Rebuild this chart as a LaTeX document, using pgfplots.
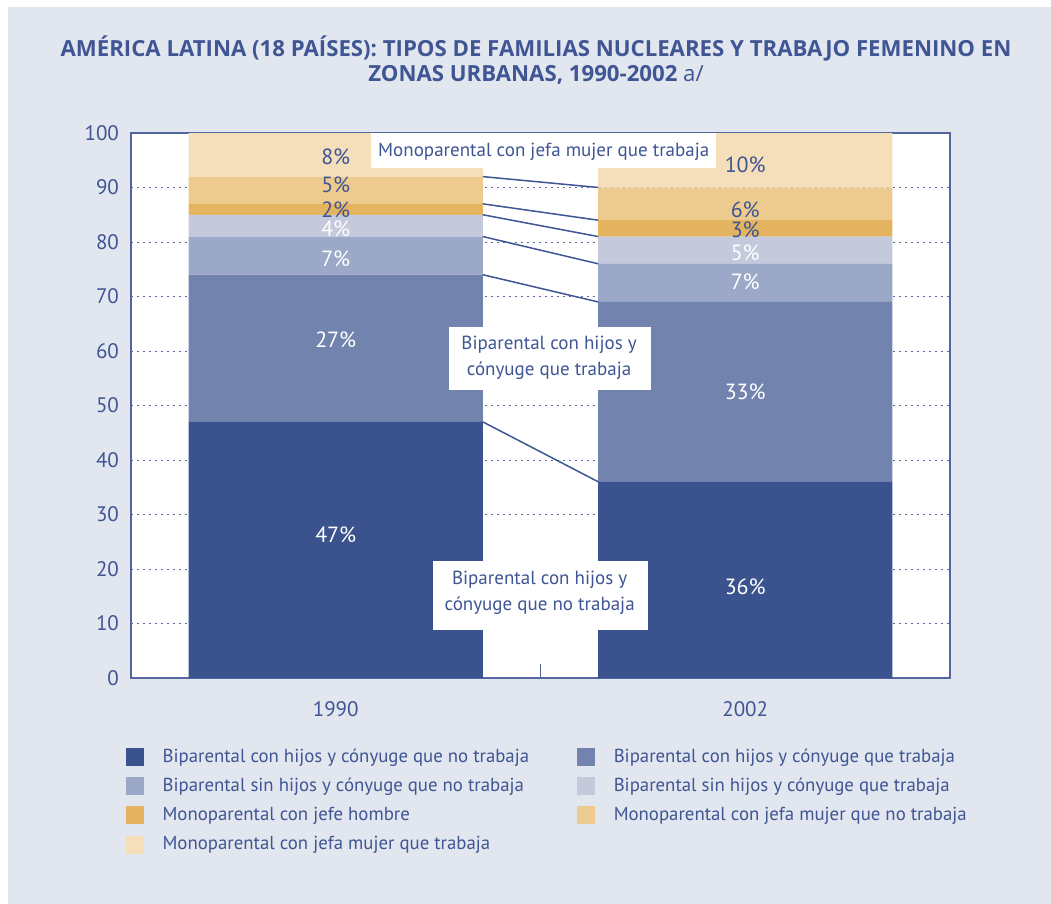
\documentclass[border=0pt]{standalone}
\usepackage{pgfplots}
\pgfplotsset{compat=1.18}
\usepackage{fontspec}
\setmainfont{PT Sans}
\newfontfamily\titlefont{Open Sans}
\definecolor{bg}{HTML}{E1E6EF}
\definecolor{tblue}{HTML}{3F5594}
\definecolor{c1}{HTML}{3A528E}
\definecolor{c2}{HTML}{7283AE}
\definecolor{c3}{HTML}{9BA8C8}
\definecolor{c4}{HTML}{C4CADC}
\definecolor{c5}{HTML}{E5B461}
\definecolor{c6}{HTML}{EDCB8F}
\definecolor{c7}{HTML}{F5DFBA}
\definecolor{axc}{HTML}{5366A2}
\definecolor{gridc}{HTML}{5A6BA3}
\begin{document}
\begin{tikzpicture}[x=0.5pt,y=-0.5pt]
\useasboundingbox (0,0) rectangle (1051,904);
\fill[white] (0,0) rectangle (1051,904);
\fill[bg] (8,7) rectangle (1051,904);
\node[font=\titlefont\bfseries\fontsize{11.1}{12.5}\selectfont, text=tblue, align=center] at (536,60)
 {AMÉRICA LATINA (18 PAÍSES): TIPOS DE FAMILIAS NUCLEARES Y TRABAJO FEMENINO EN\\ ZONAS URBANAS, 1990-2002 {\mdseries a/}};
\begin{axis}[
 at={(65.5pt,-339pt)}, anchor=south west,
 width=409.5pt, height=272.5pt, scale only axis,
 xmin=-0.5, xmax=1.5, ymin=0, ymax=100,
 ybar stacked, bar width=0.718,
 xtick={0,1}, xticklabels={1990,2002},
 major tick length=0pt,
 extra x ticks={0.5}, extra x tick labels={},
 extra x tick style={major tick length=7pt, tick style={draw=axc, line width=0.75pt}, grid=none},
 ytick={0,10,...,100},
 ymajorgrids, grid style={gridc, dash pattern=on 0.8pt off 2.2pt, line width=0.5pt},
 axis line style={axc, line width=0.9pt},
 axis background/.style={fill=white},
 tick label style={font=\fontsize{10.5}{12}\selectfont, text=tblue},
 xticklabel style={yshift=-8pt},
 yticklabel style={xshift=-2.5pt},
 /pgf/number format/assume math mode=true,
 legend columns=2,
 legend cell align=left,
 legend image code/.code={\fill[#1] (0pt,-4.5pt) rectangle (9pt,4.5pt); \path (0pt,-7.3pt) (16.3pt,7.3pt);},
 legend style={at={(-0.0061,-0.118)}, anchor=north west, draw=none, fill=none,
   inner sep=0pt, outer sep=0pt, font=\fontsize{9.4}{11}\selectfont, text=tblue,
   /tikz/every even column/.append style={column sep=22pt}},
]
\addplot[fill=c1, draw=none] coordinates {(0,47) (1,36)};
\addplot[fill=c2, draw=none] coordinates {(0,27) (1,33)};
\addplot[fill=c3, draw=none] coordinates {(0,7) (1,7)};
\addplot[fill=c4, draw=none] coordinates {(0,4) (1,5)};
\addplot[fill=c5, draw=none] coordinates {(0,2) (1,3)};
\addplot[fill=c6, draw=none] coordinates {(0,5) (1,6)};
\addplot[fill=c7, draw=none] coordinates {(0,8) (1,10)};
\legend{Biparental con hijos y cónyuge que no trabaja,
 Biparental con hijos y cónyuge que trabaja,
 Biparental sin hijos y cónyuge que no trabaja,
 Biparental sin hijos y cónyuge que trabaja,
 Monoparental con jefe hombre,
 Monoparental con jefa mujer que no trabaja,
 Monoparental con jefa mujer que trabaja}
\end{axis}
\begin{axis}[
 at={(65.5pt,-339pt)}, anchor=south west,
 width=409.5pt, height=272.5pt, scale only axis,
 xmin=-0.5, xmax=1.5, ymin=0, ymax=100,
 hide axis, clip=false,
]
\addplot[tblue, line width=0.75pt] coordinates {(0.359,92) (0.641,90)};
\addplot[tblue, line width=0.75pt] coordinates {(0.359,87) (0.641,84)};
\addplot[tblue, line width=0.75pt] coordinates {(0.359,85) (0.641,81)};
\addplot[tblue, line width=0.75pt] coordinates {(0.359,81) (0.641,76)};
\addplot[tblue, line width=0.75pt] coordinates {(0.359,74) (0.641,69)};
\addplot[tblue, line width=0.75pt] coordinates {(0.359,47) (0.641,36)};
\fill[white] (axis cs:0.0855,100) rectangle (axis cs:0.928,93.6);
\fill[white] (axis cs:0.276,64.4) rectangle (axis cs:0.769,52.8);
\fill[white] (axis cs:0.237,21.5) rectangle (axis cs:0.762,8.8);
\begin{scope}[every node/.style={font=\fontsize{9.5}{13}\selectfont, text=tblue, align=center}]
\node at (axis cs:0.508,96.5) {Monoparental con jefa mujer que trabaja};
\node at (axis cs:0.521,58.7) {Biparental con hijos y\\cónyuge que trabaja};
\node at (axis cs:0.498,15.6) {Biparental con hijos y\\cónyuge que no trabaja};
\end{scope}
\begin{scope}[every node/.style={font=\fontsize{11}{12}\selectfont}]
\node[text=white] at (axis cs:0,26.2) {47\%};
\node[text=white] at (axis cs:0,62) {27\%};
\node[text=white] at (axis cs:0,77) {7\%};
\node[text=white] at (axis cs:0,82.4) {4\%};
\node[text=tblue] at (axis cs:0,86) {2\%};
\node[text=tblue] at (axis cs:0,90.5) {5\%};
\node[text=tblue] at (axis cs:0,95.6) {8\%};
\node[text=white] at (axis cs:1,16.7) {36\%};
\node[text=white] at (axis cs:1,52.5) {33\%};
\node[text=white] at (axis cs:1,72.7) {7\%};
\node[text=white] at (axis cs:1,78) {5\%};
\node[text=tblue] at (axis cs:1,82.2) {3\%};
\node[text=tblue] at (axis cs:1,86) {6\%};
\node[text=tblue] at (axis cs:1,94.1) {10\%};
\end{scope}
\end{axis}
\end{tikzpicture}
\end{document}
